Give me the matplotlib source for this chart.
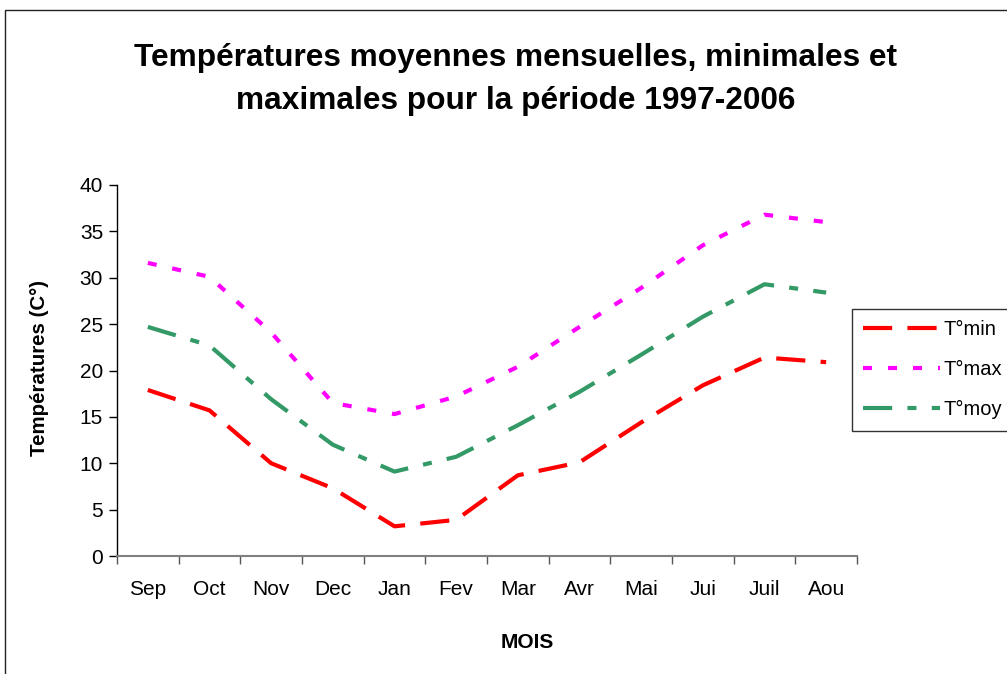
import matplotlib
matplotlib.use("Agg")
import matplotlib.pyplot as plt
from matplotlib.patches import Rectangle

months = ["Sep", "Oct", "Nov", "Dec", "Jan", "Fev", "Mar", "Avr", "Mai", "Jui", "Juil", "Aou"]
tmin = [17.9, 15.7, 10.0, 7.3, 3.2, 3.9, 8.7, 10.1, 14.4, 18.4, 21.4, 20.9]
tmax = [31.6, 30.1, 24.1, 16.5, 15.3, 17.2, 20.4, 24.7, 28.9, 33.5, 36.8, 36.0]
tmoy = [24.7, 22.7, 16.9, 12.0, 9.1, 10.7, 14.1, 17.7, 21.7, 25.8, 29.3, 28.4]
yticks = [0, 5, 10, 15, 20, 25, 30, 35, 40]

plt.rcParams['font.family'] = ['Liberation Sans', 'DejaVu Sans']
plt.rcParams['lines.scale_dashes'] = False

W, H = 1007, 674
fig = plt.figure(figsize=(W / 100, H / 100), dpi=100)
fig.patch.set_facecolor('white')

# outer border (clipped at right/bottom like the reference)
fig.add_artist(Rectangle((4.5 / W, -0.1), 1.2, 1 - 10.5 / H + 0.1,
                         transform=fig.transFigure, fill=False,
                         edgecolor='#222222', linewidth=1.0))

ax = fig.add_axes([117 / W, 1 - 556 / H, 740 / W, 371 / H])
x = list(range(len(months)))

ax.plot(x, tmin, color='#FF0000', lw=3.0, linestyle=(0, (21, 11)), label='T°min',
        dash_joinstyle='round')
ax.plot(x, tmax, color='#FF00FF', lw=3.0, linestyle=(0, (6.5, 11.5)), label='T°max',
        dash_joinstyle='round')
ax.plot(x, tmoy, color='#339966', lw=3.0, linestyle=(0, (21, 11, 6.5, 11)), label='T°moy',
        dash_joinstyle='round')

ax.set_xlim(-0.5, len(months) - 0.5)
ax.set_ylim(0, 40)

ax.spines['top'].set_visible(False)
ax.spines['right'].set_visible(False)
ax.spines['left'].set_color('black')
ax.spines['bottom'].set_color('#808080')
ax.spines['left'].set_linewidth(1.0)
ax.spines['bottom'].set_linewidth(1.5)

ax.set_yticks(yticks)
ax.set_yticklabels([str(v) for v in yticks])
ax.tick_params(axis='y', direction='out', length=6, width=1, pad=4, labelsize=15)

ax.set_xticks([i - 0.5 for i in range(len(months) + 1)])
ax.set_xticklabels([])
ax.set_xticks(x, minor=True)
ax.set_xticklabels(months, minor=True)
ax.tick_params(axis='x', which='major', direction='out', length=6, width=1, color='#555555')
ax.tick_params(axis='x', which='minor', length=0, pad=17, labelsize=15)

fig.text(516 / W, 1 - 58 / H, 'Températures moyennes mensuelles, minimales et',
         ha='center', va='center', fontsize=22.8, fontweight='bold')
fig.text(516 / W, 1 - 101 / H, 'maximales pour la période 1997-2006',
         ha='center', va='center', fontsize=22.8, fontweight='bold')

fig.text(40 / W, 1 - 368 / H, 'Températures (C°)', rotation=90,
         ha='center', va='center', fontsize=14.8, fontweight='bold')
fig.text(527 / W, 1 - 643 / H, 'MOIS', ha='center', va='center',
         fontsize=15, fontweight='bold')

leg = ax.legend(loc='upper left', bbox_to_anchor=(852 / W, 1 - 309 / H),
                bbox_transform=fig.transFigure, borderaxespad=0,
                frameon=True, fancybox=False, edgecolor='black',
                fontsize=14.5, handlelength=3.8, handletextpad=0.2,
                labelspacing=1.05, borderpad=0.55)
leg.get_frame().set_linewidth(1.0)

fig.savefig('out.png', dpi=100, facecolor='white')
